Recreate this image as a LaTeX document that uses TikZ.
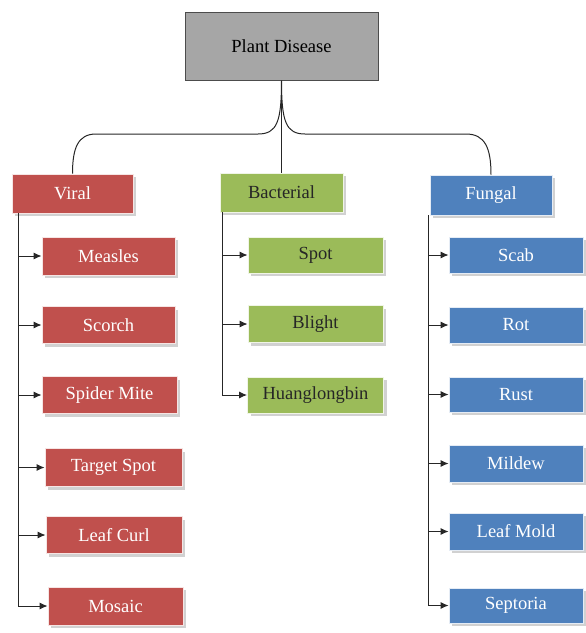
\documentclass[tikz,border=0pt]{standalone}
\usepackage{fontspec}
\setmainfont{Liberation Serif}
\usetikzlibrary{shadows,arrows.meta}
\definecolor{cred}{HTML}{C0504D}
\definecolor{cgreen}{HTML}{9BBB59}
\definecolor{cblue}{HTML}{4F81BD}
\definecolor{cgray}{HTML}{A6A6A6}
\begin{document}
\begin{tikzpicture}[x=1pt,y=-1pt,
  box/.style={rectangle,inner sep=0pt,font=\fontsize{18.5}{22}\selectfont},
  shad/.style={drop shadow={shadow xshift=3pt,shadow yshift=-3pt,fill=black!40,opacity=.45}},
  redbox/.style={box,fill=cred,text=white,draw=white!85!cred,line width=0.8pt,shad},
  greenbox/.style={box,fill=cgreen,text=black!85,draw=white!85!cgreen,line width=0.8pt,shad},
  bluebox/.style={box,fill=cblue,text=white,draw=white!85!cblue,line width=0.8pt,shad},
  conn/.style={draw=black!85,line width=1pt},
  arr/.style={conn,-{Latex[length=8pt,width=7pt]}}]
\useasboundingbox (0,0) rectangle (586,633);
% root
\node[box,fill=cgray,draw=black!70,line width=1pt,minimum width=193pt,minimum height=68pt,text=black] (pd) at (281.5,46) {Plant Disease};
% categories
\node[redbox,minimum width=121pt,minimum height=39pt] (viral) at (72.5,193.5) {Viral};
\node[greenbox,minimum width=123pt,minimum height=39pt] (bact) at (281.5,192.5) {Bacterial};
\node[bluebox,minimum width=122pt,minimum height=40pt] (fung) at (491,195) {Fungal};
% viral children
\node[redbox,minimum width=133pt,minimum height=38pt] (measles) at (108.5,256) {Measles};
\node[redbox,minimum width=133pt,minimum height=37pt] (scorch) at (108.5,325) {Scorch};
\node[redbox,minimum width=135pt,minimum height=37pt] (spider) at (109.5,395) {Spider Mite};
\node[redbox,minimum width=137pt,minimum height=38pt] (target) at (113.5,467.5) {Target Spot};
\node[redbox,minimum width=136pt,minimum height=37pt] (curl) at (114,535) {Leaf Curl};
\node[redbox,minimum width=135pt,minimum height=38pt] (mosaic) at (115.5,606) {Mosaic};
% bacterial children
\node[greenbox,minimum width=135pt,minimum height=36pt] (spot) at (315.5,255) {Spot};
\node[greenbox,minimum width=135pt,minimum height=37pt] (blight) at (315.5,324) {Blight};
\node[greenbox,minimum width=136pt,minimum height=36pt] (huang) at (315.5,395) {Huanglongbin};
% fungal children
\node[bluebox,minimum width=134pt,minimum height=36pt] (scab) at (516,255) {Scab};
\node[bluebox,minimum width=134pt,minimum height=36pt] (rot) at (516,325) {Rot};
\node[bluebox,minimum width=134pt,minimum height=35pt] (rust) at (516,394.5) {Rust};
\node[bluebox,minimum width=134pt,minimum height=37pt] (mildew) at (516,463.5) {Mildew};
\node[bluebox,minimum width=134pt,minimum height=37pt] (mold) at (516,531.5) {Leaf Mold};
\node[bluebox,minimum width=134pt,minimum height=35pt] (sept) at (516,605.5) {Septoria};
% root connectors
\draw[conn] (pd.south) -- (bact.north);
\draw[conn] (pd.south) .. controls (281.5,122) and (277,134) .. (258,134) -- (96,134) .. controls (78,134) and (72.5,148) .. (viral.north);
\draw[conn] (pd.south) .. controls (281.5,122) and (286,134) .. (305,134) -- (466,134) .. controls (485,134) and (491,148) .. (fung.north);
% viral branch
\coordinate (vt) at (18,213);
\draw[arr] (vt) |- (mosaic.west);
\foreach \n in {measles,scorch,spider,target,curl}
  \draw[arr] (vt |- \n.west) -- (\n.west);
% bacterial branch
\coordinate (bt) at (222,212);
\draw[arr] (bt) |- (huang.west);
\foreach \n in {spot,blight}
  \draw[arr] (bt |- \n.west) -- (\n.west);
% fungal branch
\coordinate (ft) at (428,215);
\draw[arr] (ft) |- (sept.west);
\foreach \n in {scab,rot,rust,mildew,mold}
  \draw[arr] (ft |- \n.west) -- (\n.west);
\end{tikzpicture}
\end{document}
